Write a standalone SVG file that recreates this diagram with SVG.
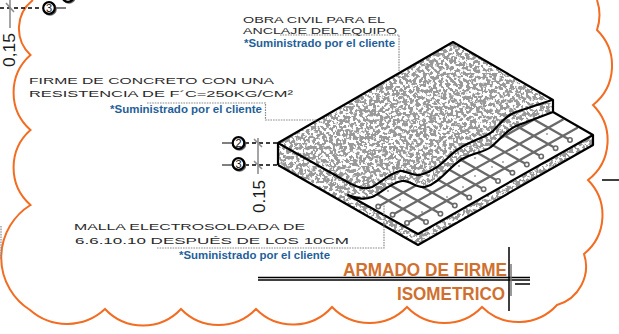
<svg xmlns="http://www.w3.org/2000/svg" width="619" height="334" viewBox="0 0 619 334">
<style>
.cad{font-family:"Liberation Sans",Arial,sans-serif;font-size:9px;fill:#2a2a2a}
.blue{font-family:"Liberation Sans",Arial,sans-serif;font-size:10px;font-weight:bold;fill:#1f5f99}
.title{font-family:"Liberation Sans",Arial,sans-serif;font-size:18px;font-weight:bold;fill:#d0702f}
.dim{font-family:"Liberation Sans",Arial,sans-serif;font-size:17px;fill:#1a1a1a}
.num{font-family:"Liberation Sans",Arial,sans-serif;font-size:11px;fill:#111;text-anchor:middle}
.lead{fill:none;stroke:#8a8a8a;stroke-width:1.2;stroke-dasharray:1.6 1}
.blk{fill:none;stroke:#000;stroke-width:2.2;stroke-linejoin:round}
.thin{fill:none;stroke:#000;stroke-width:1.2}
.dash{fill:none;stroke:#000;stroke-width:1.6;stroke-dasharray:4 3}
.gry{fill:none;stroke:#8f8f8f;stroke-width:1.6}
.mesh{fill:none;stroke:#6a6a6a;stroke-width:2.3;stroke-linecap:round}
.hook{fill:#fff;stroke:#6a6a6a;stroke-width:1.6}
.bub{fill:#fff;stroke:#000;stroke-width:2.2}
.bubs{fill:none;stroke:#666;stroke-width:1.6}
</style>
<defs>
<filter id="stipple" x="0" y="0" width="1" height="1" color-interpolation-filters="sRGB">
<feTurbulence type="fractalNoise" baseFrequency="0.3" numOctaves="2" seed="7" result="n"/>
<feColorMatrix in="n" type="matrix" values="0 0 0 0 .6 0 0 0 0 .6 0 0 0 0 .6 14 0 0 0 -6.4" result="m"/>
<feComposite in="m" in2="SourceGraphic" operator="in" result="c"/>
<feMerge><feMergeNode in="SourceGraphic"/><feMergeNode in="c"/></feMerge>
</filter>
<clipPath id="meshclip"><path d="M348 195L418 234L593 135L553 112L516 126C505 131 500 140 491 147C483 153 475 152 462 159C450 166 440 183 425 187C415 188 410 180 402 181C390 183 380 194 372 197C362 201 355 197 348 195Z"/></clipPath>
</defs>
<rect width="619" height="334" fill="#fff"/>

<g id="cloud"><path fill="none" stroke="#f26c22" stroke-width="2" d="M33 0A36 36 0 0 0 30.500 55A50 50 0 0 0 30.500 130A50 50 0 0 0 30.500 205A62 62 0 0 0 30 310A56 56 0 0 0 105 309A52 52 0 0 0 181 309A52 52 0 0 0 256 309A52 52 0 0 0 332 307A52 52 0 0 0 407 307A52 52 0 0 0 482 307A52 52 0 0 0 557 305A40 40 0 0 0 584 254A50 50 0 0 0 588 180A50 50 0 0 0 593 105A50 50 0 0 0 597 30Q602 15 597 0"/></g>

<g id="slab">
<path fill="#fff" filter="url(#stipple)" d="M278 143L453 42L553 100V112L593 135V145L418 245L278 165Z"/>
<path fill="#fff" d="M348 195L418 234L593 135L553 112L516 126C505 131 500 140 491 147C483 153 475 152 462 159C450 166 440 183 425 187C415 188 410 180 402 181C390 183 380 194 372 197C362 201 355 197 348 195Z"/>
<g clip-path="url(#meshclip)">
<path class="mesh" d="M570 140l-144-82M555.600 148.200l-144-82M541.200 156.400l-144-82M526.800 164.600l-144-82M512.400 172.800l-144-82M498 181l-144-82M483.600 189.200l-144-82M469.200 197.400l-144-82M454.800 205.600l-144-82M440.400 213.800l-144-82M426 222l-144-82"/>
<path class="mesh" d="M407 223L577 128M392.600 214.800L562.600 119.800M378.200 206.600L548.200 111.600M363.800 198.400L533.800 103.400M349.400 190.200L519.400 95.200M335 182L505 87M320.600 173.800L490.600 78.800"/>
<g class="hook">
<circle cx="570" cy="140" r="2.200"/><circle cx="555.600" cy="148.200" r="2.200"/><circle cx="541.200" cy="156.400" r="2.200"/><circle cx="526.800" cy="164.600" r="2.200"/><circle cx="512.400" cy="172.800" r="2.200"/><circle cx="498" cy="181" r="2.200"/><circle cx="483.600" cy="189.200" r="2.200"/><circle cx="469.200" cy="197.400" r="2.200"/><circle cx="454.800" cy="205.600" r="2.200"/><circle cx="440.400" cy="213.800" r="2.200"/><circle cx="426" cy="222" r="2.200"/><circle cx="407" cy="223" r="2.200"/><circle cx="392.600" cy="214.800" r="2.200"/><circle cx="378.200" cy="206.600" r="2.200"/>
</g>
<g fill="#555"><circle cx="517" cy="150" r=".8"/><circle cx="547" cy="134" r=".8"/><circle cx="503" cy="162" r=".8"/><circle cx="492" cy="167" r=".8"/><circle cx="475" cy="176" r=".8"/><circle cx="463" cy="187" r=".8"/><circle cx="447" cy="197" r=".8"/><circle cx="459" cy="166" r=".8"/><circle cx="475" cy="158" r=".8"/><circle cx="388" cy="191" r=".8"/><circle cx="400" cy="200" r=".8"/><circle cx="422" cy="212" r=".8"/><circle cx="430" cy="193" r=".8"/></g>
</g>
<path class="blk" d="M278 165V143L453 42L553 100V112"/>
<path class="blk" d="M552 100L516 112C505 116 500 124 493 131C487 137 475 139 460 148C448 155 440 170 420 175C412 176 405 170 400 171C388 174 382 182 372 187C364 190 358 187 351 184L278 143"/>
<path class="blk" d="M553 112L516 126C505 131 500 140 491 147C483 153 475 152 462 159C450 166 440 183 425 187C415 188 410 180 402 181C390 183 380 194 372 197C362 201 355 197 348 195L418 234L593 135"/>
<path class="blk" d="M553 112L593 135V145L418 245L278 165"/>
</g>

<g id="connectors">
<path class="lead" d="M280 35H399V72"/>
<path class="lead" d="M147 103H265.500V120H316"/>
<path class="lead" d="M157 248H384V205"/>
<path class="lead" d="M1 226V259"/>
<path class="dash" d="M245 143H278M245 165H278M0 8H40"/>
<path class="thin" d="M222 143H232M222 165H232M56 8H66"/>
<path class="gry" d="M258 138V174M254 139L262 147M254 161L262 169M10 0V28M6 3L14 12"/>
</g>

<g id="bubble-2"><circle class="bubs" cx="239.500" cy="144" r="6"/><circle class="bub" cx="238.500" cy="143" r="5.800"/><text class="num" x="238.500" y="147">2</text></g>
<g id="bubble-3"><circle class="bubs" cx="239.500" cy="165" r="6"/><circle class="bub" cx="238.500" cy="164" r="5.800"/><text class="num" x="238.500" y="168">3</text></g>
<g id="bubble-3b"><circle class="bubs" cx="50" cy="9" r="6"/><circle class="bub" cx="49" cy="8" r="5.800"/><text class="num" x="49" y="12">3</text></g>
<g id="bubble-top"><circle class="bubs" cx="69" cy="-3" r="6"/><circle class="bub" cx="68" cy="-4" r="5.800"/></g>

<g id="dim-1"><text class="dim" transform="translate(15 67) rotate(-90)" textLength="34" lengthAdjust="spacingAndGlyphs">0,15</text></g>
<g id="dim-2"><text class="dim" transform="translate(265 213) rotate(-90)" textLength="33" lengthAdjust="spacingAndGlyphs">0.15</text></g>

<g id="note-obra">
<text class="cad" x="243" y="23" textLength="142" lengthAdjust="spacingAndGlyphs">OBRA CIVIL PARA EL</text>
<text class="cad" x="243" y="34" textLength="154" lengthAdjust="spacingAndGlyphs">ANCLAJE DEL EQUIPO</text>
<text class="blue" x="244" y="47" textLength="151" lengthAdjust="spacingAndGlyphs">*Suministrado por el cliente</text>
</g>
<g id="note-firme">
<text class="cad" x="29" y="83.500" textLength="245" lengthAdjust="spacingAndGlyphs">FIRME DE CONCRETO CON UNA</text>
<text class="cad" x="29" y="96.500" textLength="264" lengthAdjust="spacingAndGlyphs">RESISTENCIA DE F´C=250KG/CM²</text>
<text class="blue" x="110" y="113" textLength="152" lengthAdjust="spacingAndGlyphs">*Suministrado por el cliente</text>
</g>
<g id="note-malla">
<text class="cad" x="74" y="230" textLength="231" lengthAdjust="spacingAndGlyphs">MALLA ELECTROSOLDADA DE</text>
<text class="cad" x="75" y="243.500" textLength="274" lengthAdjust="spacingAndGlyphs">6.6.10.10 DESPUÉS DE LOS 10CM</text>
<text class="blue" x="179" y="258.700" textLength="151" lengthAdjust="spacingAndGlyphs">*Suministrado por el cliente</text>
</g>

<g id="title-block">
<path fill="none" stroke="#000" stroke-width="1.300" d="M258 277.500H530M258 280H530"/>
<path fill="none" stroke="#000" stroke-width="1.500" d="M509 247V311M515 284H530M602 180H619"/>
<path fill="none" stroke="#777" stroke-width="1.500" d="M511 264V296"/>
<text class="title" x="343" y="276" textLength="164" lengthAdjust="spacingAndGlyphs">ARMADO DE FIRME</text>
<text class="title" x="397" y="300" textLength="108" lengthAdjust="spacingAndGlyphs">ISOMETRICO</text>
</g>
</svg>
